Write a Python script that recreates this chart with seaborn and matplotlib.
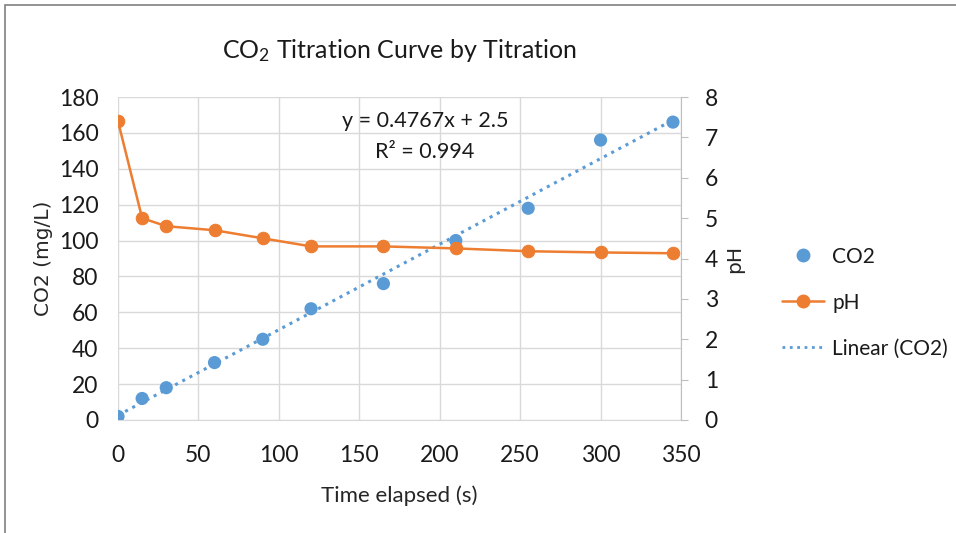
import numpy as np
import pandas as pd
import seaborn as sns
import matplotlib.pyplot as plt
from matplotlib.lines import Line2D
from matplotlib.patches import Rectangle

# Data
time_s = [0, 15, 30, 60, 90, 120, 165, 210, 255, 300, 345]
co2_mgL = [2, 12, 18, 32, 45, 62, 76, 100, 118, 156, 166]
ph_vals = [7.4, 5.0, 4.8, 4.7, 4.5, 4.3, 4.3, 4.25, 4.18, 4.15, 4.13]
co2_ticks = [0, 20, 40, 60, 80, 100, 120, 140, 160, 180]
ph_ticks = [0, 1, 2, 3, 4, 5, 6, 7, 8]
time_ticks = [0, 50, 100, 150, 200, 250, 300, 350]

df = pd.DataFrame({'time': time_s, 'co2': co2_mgL, 'ph': ph_vals})

BLUE = '#5B9BD5'
ORANGE = '#ED7D31'
GRID = '#D9D9D9'
TXT = '#1a1a1a'

sns.set_style('white')
plt.rcParams['font.family'] = ['Lato', 'DejaVu Sans']
plt.rcParams['mathtext.fontset'] = 'custom'
plt.rcParams['mathtext.rm'] = 'Lato'
plt.rcParams['mathtext.it'] = 'Lato'
plt.rcParams['text.color'] = TXT
plt.rcParams['xtick.color'] = TXT
plt.rcParams['ytick.color'] = TXT

fig = plt.figure(figsize=(9.56, 5.33), dpi=100)
ax = fig.add_axes([118 / 956, 1 - 420 / 533, 563 / 956, 323 / 533])
ax2 = ax.twinx()

# CO2 points + linear trendline
sns.regplot(data=df, x='time', y='co2', ax=ax, scatter=False, ci=None,
            line_kws={'color': BLUE, 'linestyle': ':', 'linewidth': 2.2})
sns.scatterplot(data=df, x='time', y='co2', ax=ax, color=BLUE, s=90,
                edgecolor='none', zorder=3)

# pH on the secondary axis
sns.lineplot(data=df, x='time', y='ph', ax=ax2, color=ORANGE, marker='o',
             markersize=9, markeredgecolor=ORANGE, linewidth=1.8)

ax.set_xlim(0, 350)
ax.set_ylim(0, 180)
ax2.set_ylim(0, 8)
ax.set_xticks(time_ticks)
ax.set_yticks(co2_ticks)
ax2.set_yticks(ph_ticks)

ax.grid(True, color=GRID, linewidth=1)
ax.set_axisbelow(True)
for a in (ax, ax2):
    for sp in a.spines.values():
        sp.set_visible(False)
ax.spines['bottom'].set_visible(True)
ax.spines['bottom'].set_color(GRID)
ax2.spines['right'].set_visible(True)
ax2.spines['right'].set_color('#BFBFBF')

ax.tick_params(axis='x', length=0, labelsize=16.5, pad=18)
ax.tick_params(axis='y', length=0, labelsize=16.5, pad=14)
ax2.tick_params(axis='y', length=5, color='#BFBFBF', labelsize=16.5, pad=12)

ax.set_xlabel('Time elapsed (s)', fontsize=16, labelpad=14)
ax.set_ylabel('CO2 (mg/L)', fontsize=14.5, family='DejaVu Sans', labelpad=4)
ax2.set_ylabel('pH', fontsize=14.5, family='DejaVu Sans', rotation=90, labelpad=5)

ax.set_title('CO$_2$ Titration Curve by Titration', fontsize=18, pad=28)

ax.text(0.545, 0.925, 'y = 0.4767x + 2.5', transform=ax.transAxes,
        ha='center', va='center', fontsize=15.5)
ax.text(0.545, 0.83, 'R² = 0.994', transform=ax.transAxes,
        ha='center', va='center', fontsize=15.5)

handles = [
    Line2D([], [], color=BLUE, marker='o', linestyle='none', markersize=9),
    Line2D([], [], color=ORANGE, marker='o', markersize=9, linewidth=1.8),
    Line2D([], [], color=BLUE, linestyle=':', linewidth=2.0),
]
fig.legend(handles, ['CO2', 'pH', 'Linear (CO2)'], loc='center left',
           bbox_to_anchor=(0.818, 0.432), frameon=False, fontsize=15,
           handlelength=2.0, labelspacing=1.25, handletextpad=0.4,
           borderpad=0, borderaxespad=0)

# chart-area border
fig.patches.append(Rectangle((5 / 956, -0.1), 1.2, 1.1 - 5 / 533,
                             transform=fig.transFigure, fill=False,
                             edgecolor='#808080', linewidth=1.2))

fig.savefig('out.png', dpi=100)
